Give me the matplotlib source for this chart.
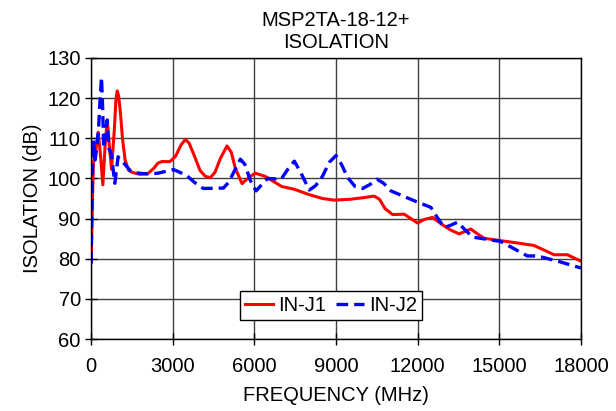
import numpy as np
import matplotlib
matplotlib.use("Agg")
from matplotlib import pyplot as plt

plt.rcParams['font.family'] = ['Liberation Sans', 'DejaVu Sans']

# values
freq_j1 = [0, 40, 80, 150, 258, 340, 430, 510, 589, 670, 748, 850, 910, 957, 1010, 1080, 1150, 1250, 1380,
           1509, 1800, 2100, 2300, 2450, 2600, 2900, 3100, 3300, 3459, 3600, 3800, 4000, 4200, 4379, 4550,
           4750, 4993, 5150, 5300, 5546, 5800, 6035, 6400, 7000, 7467, 8000, 8500, 8936, 9500, 10000,
           10404, 10600, 10800, 11079, 11505, 11997, 12250, 12547, 12900, 13200, 13524, 13953, 14200,
           14441, 15054, 15700, 16276, 16700, 17010, 17502, 18000]
iso_j1 = [79.5, 92, 104, 106, 111.5, 106, 98.4, 108, 114.6, 108, 102.3, 112, 119.5, 121.8, 120.5, 116, 110, 104.5, 102,
          101.5, 101.0, 101.3, 102.5, 103.8, 104.2, 104.2, 105.5, 108.3, 109.7, 108.8, 105.5, 102, 100.5, 100.2, 101.5,
          105, 108.1, 106.5, 102.5, 98.7, 100.3, 101.3, 100.5, 98, 97.3, 96, 95, 94.6, 94.8, 95.2,
          95.6, 94.8, 92.5, 91, 91.1, 88.9, 89.8, 90.3, 88.5, 87.2, 86.2, 87.4, 86.2,
          85.1, 84.5, 83.9, 83.3, 82, 81, 81, 79.4]

freq_j2 = [0, 30, 60, 86, 147, 208, 269, 330, 380, 420, 460, 530, 590, 650, 740, 870, 990, 1200,
           1497, 2050, 2449, 3030, 3500, 3800, 4120, 4860, 5050, 5200, 5483, 5650, 5850, 6062, 6250, 6490, 6980,
           7250, 7468, 7700, 8018, 8250, 8500, 8750, 8999, 9200, 9427, 9700, 9977, 10250, 10503, 10750,
           11017, 11500, 11997, 12486, 12700, 12975, 13200, 13464, 13700, 14015, 15054, 16034, 16400,
           17200, 18000]
iso_j2 = [78.8, 95, 105, 109.5, 104.6, 108, 112, 120, 125.2, 118, 107.5, 112, 114.5, 107.5, 106, 98.8, 105.4, 103.8,
          101.5, 101.1, 101.3, 102.2, 100.8, 99, 97.5, 97.6, 99, 101, 104.8, 103.5, 99.5, 96.9, 98.3, 100, 99.8,
          102.5, 104.3, 101.5, 97.1, 98.2, 100.5, 104, 105.7, 103.5, 100.2, 98, 97.5, 98.5, 99.8, 98.8,
          96.9, 95.5, 94.1, 92.8, 90.5, 87.8, 88.3, 89.1, 87.5, 85.4, 84.3, 80.7, 80.7,
          79.3, 77.7]

xticks = [0, 3000, 6000, 9000, 12000, 15000, 18000]
yticks = [60, 70, 80, 90, 100, 110, 120, 130]

fig = plt.figure(figsize=(6.16, 4.11), dpi=100)
ax = fig.add_axes([0.148, 0.175, 0.795, 0.684])

ax.plot(freq_j1, iso_j1, color='#ff0000', lw=2.2, label='IN-J1')
ax.plot(freq_j2, iso_j2, color='#0000ff', lw=2.4, ls=(0, (3.5, 1.8)), label='IN-J2')

ax.set_xlim(0, 18000)
ax.set_ylim(60, 130)
ax.set_xticks(xticks)
ax.set_yticks(yticks)
ax.grid(True, color='0.25', lw=1.0)
ax.set_axisbelow(True)
ax.tick_params(direction='inout', length=8, labelsize=14.5, width=1)
ax.tick_params(axis='x', pad=9)
for s in ax.spines.values():
    s.set_color('black')
    s.set_linewidth(1.0)

ax.set_xlabel('FREQUENCY (MHz)', fontsize=14.5, labelpad=7)
ax.set_ylabel('ISOLATION (dB)', fontsize=14.5, labelpad=4)
ax.set_title('MSP2TA-18-12+\nISOLATION', fontsize=14.5, linespacing=1.2, pad=7)

leg = ax.legend(loc='center', bbox_to_anchor=(0.49, 0.12), ncol=2, fontsize=14.5, frameon=True,
                fancybox=False, edgecolor='black', handlelength=1.4, handletextpad=0.25,
                columnspacing=0.5, borderpad=0.25, borderaxespad=0)
leg.get_frame().set_linewidth(1.0)
leg.get_frame().set_alpha(1)

fig.savefig('out.png', dpi=100)
